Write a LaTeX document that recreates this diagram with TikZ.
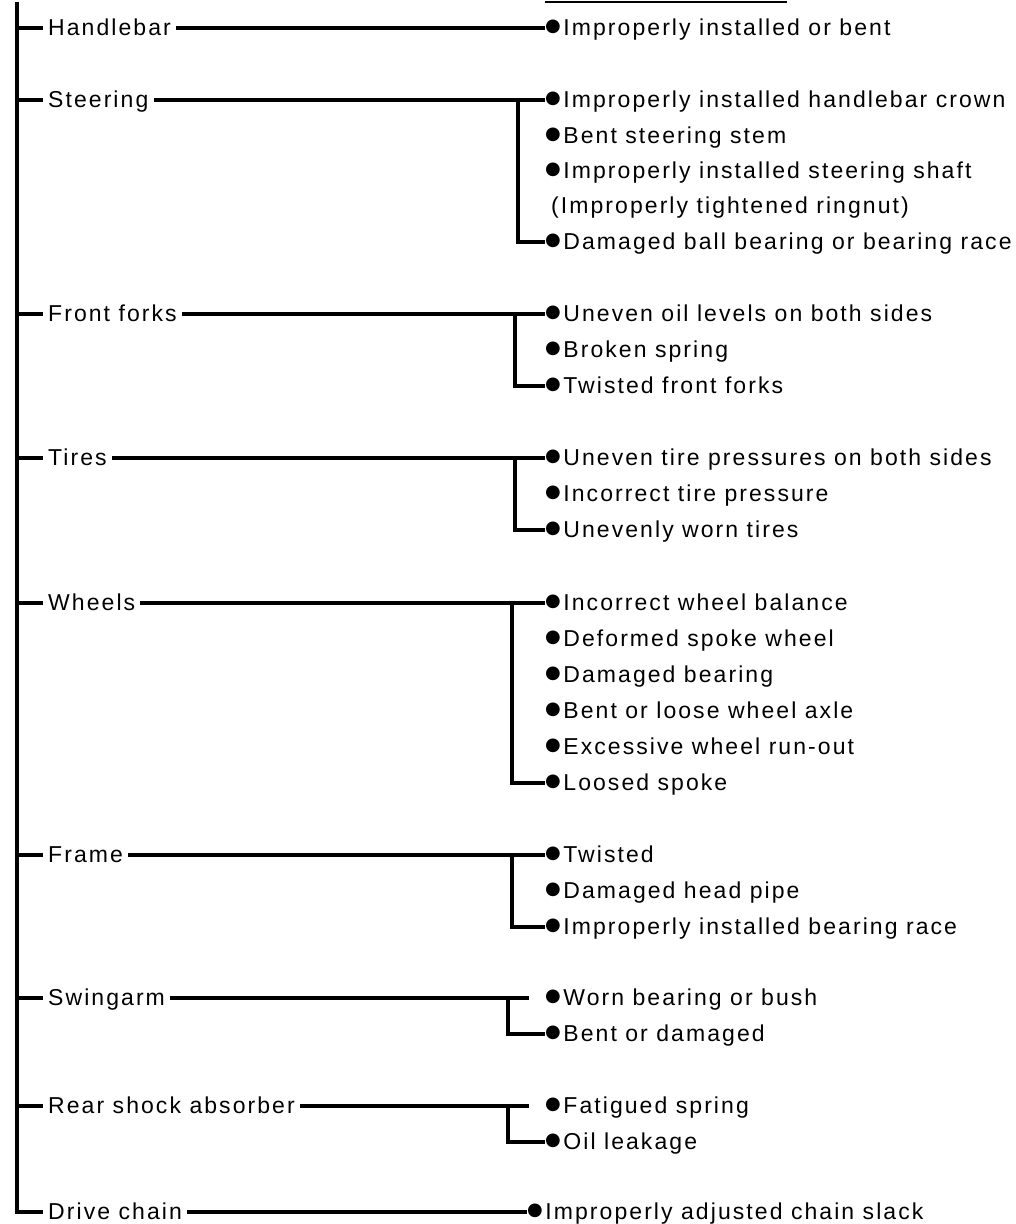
\documentclass[tikz,border=0pt]{standalone}
\usepackage{fontspec}
\setmainfont[LetterSpace=9]{Liberation Sans}
\newfontfamily\dotfont{DejaVu Sans}
\usepackage{tikz}
\usetikzlibrary{positioning}
\newcommand{\dotmark}{\raisebox{3.6pt}{\dotfont\fontsize{18}{18}\selectfont ●}\hspace{2.5pt}}

\begin{document}
\begin{tikzpicture}[
    x=1pt, y=-1pt,
    font=\fontsize{23}{27}\selectfont,
    cat/.style={anchor=west, inner xsep=5pt, inner ysep=0pt, text height=16pt, text depth=2pt},
    cause/.style={anchor=west, inner sep=0pt, text height=16pt, text depth=2pt},
    ln/.style={line width=3.2pt, line join=miter}]
  \useasboundingbox (0,0) rectangle (1016,1224);

  % cut-off heading rule
  \coordinate (hd1) at (545,2);
  \coordinate (hd2) at (787,2);
  \draw[line width=1.2pt] (hd1) -- (hd2);

  % components
  \node[cat] (hb) at (43,28)   {Handlebar};
  \node[cat] (st) at (43,100)  {Steering};
  \node[cat] (ff) at (43,314)  {Front forks};
  \node[cat] (ti) at (43,458)  {Tires};
  \node[cat] (wh) at (43,603)  {Wheels};
  \node[cat] (fr) at (43,855)  {Frame};
  \node[cat] (sw) at (43,998)  {Swingarm};
  \node[cat] (rs) at (43,1106) {Rear shock absorber};
  \node[cat] (dc) at (43,1212) {Drive chain};

  % spine
  \coordinate (top) at (17,2);
  \draw[ln] (top) |- (dc.west);
  \foreach \n in {hb,st,ff,ti,wh,fr,sw,rs}
    \draw[ln] (\n.west -| top) -- (\n.west);

  % causes
  \node[cause] (hb1) at (545,28) {\dotmark Improperly installed or bent};

  \node[cause] (st1) at (545,100) {\dotmark Improperly installed handlebar crown};
  \node[cause] (st2) at (545,136) {\dotmark Bent steering stem};
  \node[cause] (st3) at (545,171) {\dotmark Improperly installed steering shaft};
  \node[cause] (st3b) at (551,206) {(Improperly tightened ringnut)};
  \node[cause] (st4) at (545,242) {\dotmark Damaged ball bearing or bearing race};

  \node[cause] (ff1) at (545,314) {\dotmark Uneven oil levels on both sides};
  \node[cause] (ff2) at (545,350) {\dotmark Broken spring};
  \node[cause] (ff3) at (545,386) {\dotmark Twisted front forks};

  \node[cause] (ti1) at (545,458) {\dotmark Uneven tire pressures on both sides};
  \node[cause] (ti2) at (545,494) {\dotmark Incorrect tire pressure};
  \node[cause] (ti3) at (545,530) {\dotmark Unevenly worn tires};

  \node[cause] (wh1) at (545,603) {\dotmark Incorrect wheel balance};
  \node[cause] (wh2) at (545,639) {\dotmark Deformed spoke wheel};
  \node[cause] (wh3) at (545,675) {\dotmark Damaged bearing};
  \node[cause] (wh4) at (545,711) {\dotmark Bent or loose wheel axle};
  \node[cause] (wh5) at (545,747) {\dotmark Excessive wheel run-out};
  \node[cause] (wh6) at (545,783) {\dotmark Loosed spoke};

  \node[cause] (fr1) at (545,855) {\dotmark Twisted};
  \node[cause] (fr2) at (545,891) {\dotmark Damaged head pipe};
  \node[cause] (fr3) at (545,927) {\dotmark Improperly installed bearing race};

  \node[cause] (sw1) at (545,998)  {\dotmark Worn bearing or bush};
  \node[cause] (sw2) at (545,1034) {\dotmark Bent or damaged};

  \node[cause] (rs1) at (545,1106) {\dotmark Fatigued spring};
  \node[cause] (rs2) at (545,1142) {\dotmark Oil leakage};

  \node[cause] (dc1) at (527,1212) {\dotmark Improperly adjusted chain slack};

  % branch points
  \coordinate (stb) at (518,100);
  \coordinate (ffb) at (515,314);
  \coordinate (tib) at (515,458);
  \coordinate (whb) at (512,603);
  \coordinate (frb) at (512,855);
  \coordinate (swb) at (508,998);
  \coordinate (swe) at (529,998);
  \coordinate (rsb) at (508,1106);
  \coordinate (rse) at (529,1106);

  % connectors
  \draw[ln] (hb.east) -- (hb1.west);
  \draw[ln] (dc.east) -- (dc1.west);

  \draw[ln] (st.east) -- (st1.west);
  \draw[ln] (stb) |- (st4.west);
  \draw[ln] (ff.east) -- (ff1.west);
  \draw[ln] (ffb) |- (ff3.west);
  \draw[ln] (ti.east) -- (ti1.west);
  \draw[ln] (tib) |- (ti3.west);
  \draw[ln] (wh.east) -- (wh1.west);
  \draw[ln] (whb) |- (wh6.west);
  \draw[ln] (fr.east) -- (fr1.west);
  \draw[ln] (frb) |- (fr3.west);

  \draw[ln] (sw.east) -- (swe);
  \draw[ln] (swb) |- (sw2.west);
  \draw[ln] (rs.east) -- (rse);
  \draw[ln] (rsb) |- (rs2.west);
\end{tikzpicture}
\end{document}
